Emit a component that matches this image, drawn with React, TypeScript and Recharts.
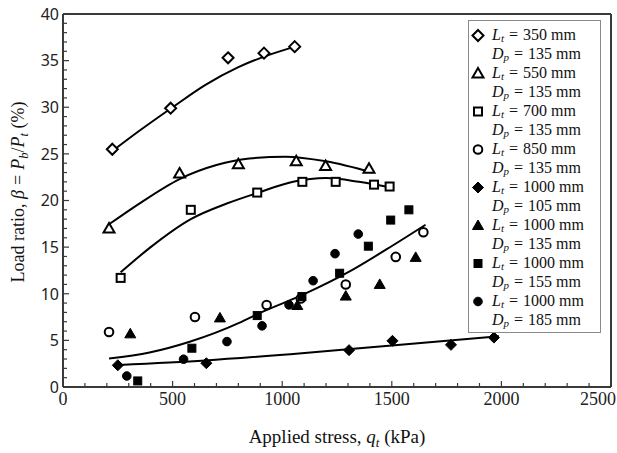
import { ComposedChart, Scatter, Line, XAxis, YAxis, ReferenceLine, Label } from 'recharts';

// measured points: applied stress q_t (kPa) and load ratio beta (%)
const qL350 = [225, 491, 753, 917, 1057];
const bL350 = [25.5, 29.9, 35.3, 35.8, 36.5];
const qL550 = [210, 532, 800, 1064, 1198, 1396];
const bL550 = [17.0, 22.9, 23.9, 24.2, 23.7, 23.4];
const qL700 = [263, 583, 886, 1092, 1244, 1419, 1490];
const bL700 = [11.7, 19.0, 20.85, 22.0, 22.0, 21.7, 21.5];
const qL850 = [210, 602, 929, 1085, 1290, 1518, 1644];
const bL850 = [5.9, 7.5, 8.8, 9.5, 11.0, 13.95, 16.6];
const qD105 = [250, 654, 1305, 1503, 1770, 1966];
const bD105 = [2.33, 2.55, 3.95, 4.95, 4.52, 5.3];
const qD135 = [307, 716, 1069, 1290, 1445, 1609];
const bD135 = [5.7, 7.41, 8.74, 9.75, 11.0, 13.9];
const qD155 = [341, 588, 886, 1090, 1262, 1393, 1495, 1578];
const bD155 = [0.65, 4.16, 7.66, 9.7, 12.2, 15.1, 17.9, 19.0];
const qD185 = [291, 550, 748, 908, 1031, 1141, 1241, 1347];
const bD185 = [1.18, 2.98, 4.87, 6.56, 8.81, 11.4, 14.3, 16.4];

// trend curves
const fitQ350 = [225, 350, 500, 650, 800, 950, 1060];
const fitB350 = [25.3, 27.5, 30.0, 32.4, 34.3, 35.7, 36.5];
const fitQ550 = [210, 350, 532, 700, 850, 1016, 1200, 1411];
const fitB550 = [17.45, 19.7, 22.3, 23.8, 24.5, 24.7, 24.2, 23.0];
const fitQ700 = [263, 400, 583, 750, 886, 1050, 1200, 1350, 1510];
const fitB700 = [12.3, 15.0, 18.0, 19.7, 20.8, 22.0, 22.4, 22.0, 21.3];
const fitQ1000 = [210, 395, 578, 806, 890, 1100, 1293, 1506, 1654];
const fitB1000 = [3.05, 3.7, 4.85, 6.9, 7.85, 9.95, 12.2, 15.2, 17.4];
const fitQ105 = [255, 650, 1050, 1500, 1989];
const fitB105 = [2.37, 2.85, 3.55, 4.45, 5.45];

const xLabels = [0, 500, 1000, 1500, 2000, 2500];
const yLabels = [0, 5, 10, 15, 20, 25, 30, 35, 40];
const xTicks = Array.from({ length: 26 }, (_, i) => i * 100);
const yTicks = Array.from({ length: 41 }, (_, i) => i);

const zip = (xs: number[], ys: number[]) => xs.map((x, i) => ({ x, y: ys[i] }));

type Kind = 'diamond' | 'triangle' | 'square' | 'circle';

const series = [
  { key: 's350', kind: 'diamond', filled: false, L: '350', D: '135', data: zip(qL350, bL350) },
  { key: 's550', kind: 'triangle', filled: false, L: '550', D: '135', data: zip(qL550, bL550) },
  { key: 's700', kind: 'square', filled: false, L: '700', D: '135', data: zip(qL700, bL700) },
  { key: 's850', kind: 'circle', filled: false, L: '850', D: '135', data: zip(qL850, bL850) },
  { key: 'd105', kind: 'diamond', filled: true, L: '1000', D: '105', data: zip(qD105, bD105) },
  { key: 'd135', kind: 'triangle', filled: true, L: '1000', D: '135', data: zip(qD135, bD135) },
  { key: 'd155', kind: 'square', filled: true, L: '1000', D: '155', data: zip(qD155, bD155) },
  { key: 'd185', kind: 'circle', filled: true, L: '1000', D: '185', data: zip(qD185, bD185) },
] as { key: string; kind: Kind; filled: boolean; L: string; D: string; data: { x: number; y: number }[] }[];

const fits = [
  zip(fitQ350, fitB350),
  zip(fitQ550, fitB550),
  zip(fitQ700, fitB700),
  zip(fitQ1000, fitB1000),
  zip(fitQ105, fitB105),
];

const AXIS = '#3a3a3a';
const SERIF = '"Liberation Serif", "DejaVu Serif", serif';
const SANS = '"Noto Sans", "Open Sans", sans-serif';

function Marker({ cx, cy, kind, filled }: { cx: number; cy: number; kind: Kind; filled: boolean }) {
  const fill = filled ? '#000' : '#fff';
  const sw = filled ? 1 : 2;
  if (kind === 'diamond') {
    const r = 5.5;
    return <polygon points={`${cx},${cy - r} ${cx + r},${cy} ${cx},${cy + r} ${cx - r},${cy}`} fill={fill} stroke="#000" strokeWidth={sw} />;
  }
  if (kind === 'triangle') {
    return <polygon points={`${cx},${cy - 5.5} ${cx + 5.5},${cy + 4} ${cx - 5.5},${cy + 4}`} fill={fill} stroke="#000" strokeWidth={sw} />;
  }
  if (kind === 'square') {
    return <rect x={cx - 4} y={cy - 4} width={8} height={8} fill={fill} stroke="#000" strokeWidth={sw} />;
  }
  return <circle cx={cx} cy={cy} r={4.3} fill={fill} stroke="#000" strokeWidth={sw} />;
}

function XTick({ x, y, payload }: any) {
  const v = payload.value;
  const major = xLabels.includes(v);
  const last = v === xLabels[xLabels.length - 1];
  return (
    <g>
      <line x1={x} x2={x} y1={y} y2={y - (major ? 6 : 4)} stroke={AXIS} strokeWidth={1.2} />
      {major && (
        <text x={last ? 616 : x} y={y + 18} textAnchor={last ? 'end' : 'middle'} fontFamily={SERIF} fontSize={18} fill="#222">
          {v}
        </text>
      )}
    </g>
  );
}

function YTick({ x, y, payload }: any) {
  const major = yLabels.includes(payload.value);
  return (
    <g>
      <line x1={x} x2={x + (major ? 6 : 4)} y1={y} y2={y} stroke={AXIS} strokeWidth={1.2} />
      {major && (
        <text x={x - 4} y={y} dy="0.36em" textAnchor="end" fontFamily={SANS} fontSize={16} fill="#222">
          {payload.value}
        </text>
      )}
    </g>
  );
}

// legend row drawn as one svg text so the subscript stays inside the row
function LegendLine({ sym, sub, value, marker }: { sym: string; sub: string; value: string; marker?: { kind: Kind; filled: boolean } }) {
  return (
    <svg width={131} height={19} style={{ display: 'block' }}>
      {marker && <Marker cx={9} cy={9.5} kind={marker.kind} filled={marker.filled} />}
      <text x={23} y={14} fontFamily={SERIF} fontSize={16} fill="#111">
        <tspan fontStyle="italic">{sym}</tspan>
        <tspan fontStyle="italic" fontSize={11} dy={2}>{sub}</tspan>
        <tspan dy={-2} dx={5}>=</tspan>
        <tspan dx={5}>{value} mm</tspan>
      </text>
    </svg>
  );
}

function LegendBox() {
  return (
    <div
      style={{
        position: 'absolute', left: 468, top: 20, width: 133, height: 313, boxSizing: 'border-box',
        border: '1px solid #8a8a8a', background: '#fff', paddingTop: 5,
      }}
    >
      {series.map((s) => (
        <div key={s.key}>
          <LegendLine sym="L" sub="t" value={s.L} marker={{ kind: s.kind, filled: s.filled }} />
          <LegendLine sym="D" sub="p" value={s.D} />
        </div>
      ))}
    </div>
  );
}

const XTitle = () => (
  <text x={337} y={443} textAnchor="middle" fontFamily={SERIF} fontSize={19} fill="#111">
    Applied stress, <tspan fontStyle="italic">q</tspan>
    <tspan fontStyle="italic" fontSize={13} dy={4}>t</tspan>
    <tspan dy={-4}> (kPa)</tspan>
  </text>
);

const YTitle = () => (
  <text x={18} y={192} transform="rotate(-90, 18, 192)" dy="0.35em" textAnchor="middle" fontFamily={SERIF} fontSize={18} fill="#111">
    Load ratio, <tspan fontStyle="italic">β</tspan>
    <tspan dx={5}>=</tspan>
    <tspan fontStyle="italic" dx={5}>P</tspan>
    <tspan fontStyle="italic" fontSize={12.5} dy={4}>b</tspan>
    <tspan dy={-4}>/</tspan>
    <tspan fontStyle="italic">P</tspan>
    <tspan fontStyle="italic" fontSize={12.5} dy={4}>t</tspan>
    <tspan dy={-4}> (%)</tspan>
  </text>
);

export default function App() {
  return (
    <div style={{ position: 'absolute', left: 0, top: 0, width: 617, height: 453, background: '#fff' }}>
      <ComposedChart width={617} height={453} margin={{ top: 14, right: 6, bottom: 0, left: 0 }}>
        <XAxis
          type="number"
          dataKey="x"
          domain={[0, 2500]}
          ticks={xTicks}
          interval={0}
          tickSize={0}
          tickMargin={0}
          tickLine={false}
          tick={<XTick />}
          height={66}
          axisLine={{ stroke: AXIS, strokeWidth: 2 }}
          allowDataOverflow
        >
          <Label content={<XTitle />} />
        </XAxis>
        <YAxis
          type="number"
          dataKey="y"
          domain={[0, 40]}
          ticks={yTicks}
          interval={0}
          tickSize={0}
          tickMargin={0}
          tickLine={false}
          tick={<YTick />}
          width={63}
          axisLine={{ stroke: AXIS, strokeWidth: 2 }}
          allowDataOverflow
        >
          <Label content={<YTitle />} />
        </YAxis>
        <ReferenceLine y={40} stroke={AXIS} strokeWidth={2} />
        <ReferenceLine x={2500} stroke={AXIS} strokeWidth={2} />
        {fits.map((d, i) => (
          <Line
            key={`fit${i}`}
            data={d}
            dataKey="y"
            type="monotone"
            stroke="#000"
            strokeWidth={2}
            dot={false}
            activeDot={false}
            isAnimationActive={false}
            legendType="none"
          />
        ))}
        {series.map((s) => (
          <Scatter
            key={s.key}
            data={s.data}
            dataKey="y"
            isAnimationActive={false}
            shape={(p: any) => <Marker cx={p.cx} cy={p.cy} kind={s.kind} filled={s.filled} />}
          />
        ))}
      </ComposedChart>
      <LegendBox />
    </div>
  );
}
